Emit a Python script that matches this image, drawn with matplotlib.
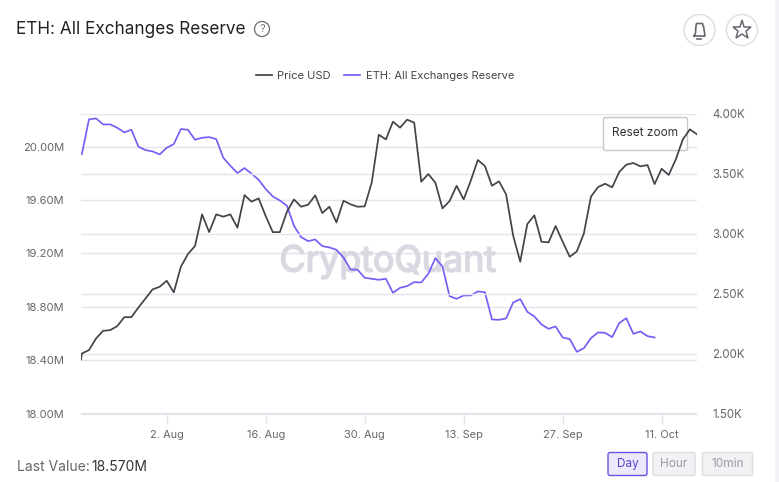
import matplotlib
matplotlib.use('Agg')
import matplotlib.pyplot as plt
import matplotlib.patheffects as pe
import pandas as pd
from matplotlib.patches import Circle, FancyBboxPatch

plt.rcParams['font.family'] = ['Inter', 'DejaVu Sans']

price = [1950, 2001, 2029, 2126, 2190, 2196, 2229, 2304, 2304, 2385, 2460, 2536, 2558, 2608, 2511, 2725,
         2831, 2898, 3162, 3014, 3162, 3143, 3162, 3051, 3323, 3268, 3296, 3148, 3014, 3014, 3184,
         3287, 3226, 3243, 3321, 3173, 3226, 3095, 3276, 3246, 3226, 3229, 3429, 3827, 3788, 3936,
         3886, 3953, 3928, 3435, 3499, 3426, 3212, 3273, 3401, 3287, 3443, 3616, 3566, 3401, 3438,
         3329, 2984, 2767, 3081, 3154, 2934, 2928, 3065, 2934, 2808, 2853, 3003, 3310, 3390, 3418,
         3388, 3516, 3577, 3591, 3563, 3574, 3415, 3543, 3491, 3621, 3788, 3872, 3830]

reserve = [19.945, 20.205, 20.2125, 20.1675, 20.1675, 20.1425, 20.1075, 20.1275, 20.00, 19.975,
           19.965, 19.9425, 19.9925, 20.02, 20.1325, 20.1275, 20.0525, 20.0675, 20.0725, 20.0575,
           19.9175, 19.8575, 19.8025, 19.84, 19.7975, 19.7525, 19.6825, 19.6275, 19.5975, 19.5575,
           19.4075, 19.3225, 19.2925, 19.305, 19.255, 19.245, 19.2275, 19.17, 19.08, 19.0775,
           19.0175, 19.01, 19.0025, 19.01, 18.905, 18.9425, 18.955, 18.985, 18.9825, 19.0475,
           19.165, 19.1025, 18.88, 18.86, 18.885, 18.885, 18.915, 18.91, 18.705, 18.7025,
           18.7125, 18.8325, 18.8575, 18.7625, 18.7275, 18.6675, 18.635, 18.6525, 18.57, 18.5575,
           18.4625, 18.49, 18.565, 18.6075, 18.605, 18.5725, 18.6775, 18.715, 18.5975, 18.615,
           18.58, 18.57]

left_ticks = [18.0, 18.4, 18.8, 19.2, 19.6, 20.0]
left_labels = ['18.00M', '18.40M', '18.80M', '19.20M', '19.60M', '20.00M']
right_ticks = [1500, 2000, 2500, 3000, 3500, 4000]
right_labels = ['1.50K', '2.00K', '2.50K', '3.00K', '3.50K', '4.00K']
date_ticks = ['2021-08-02', '2021-08-16', '2021-08-30', '2021-09-13', '2021-09-27', '2021-10-11']
date_labels = ['2. Aug', '16. Aug', '30. Aug', '13. Sep', '27. Sep', '11. Oct']

W, H = 779, 482
GRID = '#e4e4ec'
BLACK = '#434348'
PURPLE = '#7b5cf5'
TEXT = '#666666'

days = pd.date_range('2021-07-21', periods=len(price) - 1)
price_days = [days[0] - pd.Timedelta(hours=3)] + list(days)
reserve_days = days[:len(reserve)]

fig = plt.figure(figsize=(W / 100, H / 100), dpi=100, facecolor='#f4f4f8')

# white card and pixel-space layer for everything outside the plot
bg = fig.add_axes([0, 0, 1, 1], zorder=0)
bg.set_xlim(0, W)
bg.set_ylim(H, 0)
bg.axis('off')
bg.add_patch(FancyBboxPatch((-20, -20), 796, 540, boxstyle='round,pad=0,rounding_size=10',
                            fc='white', ec='#ececf2', lw=0.8))

x0, x1, y0, y1 = 81, 697, 114, 413.5
ax = fig.add_axes([x0 / W, 1 - y1 / H, (x1 - x0) / W, (y1 - y0) / H], zorder=1)
ax.patch.set_alpha(0)
ax2 = ax.twinx()

xmin = days[0] - pd.Timedelta(hours=3)
ax.set_xlim(xmin, days[-1])
ax.set_ylim(18.0, 18.0 + (y1 - y0) / 53.35 * 0.4)
ax2.set_ylim(1500, 4000)

ax.plot(reserve_days, reserve, color=PURPLE, lw=1.25, zorder=4, label='ETH: All Exchanges Reserve')
ax2.plot(price_days, price, color=BLACK, lw=1.25, zorder=4, label='Price USD')

ax.grid(axis='y', color=GRID, lw=1)
ax2.grid(axis='y', color=GRID, lw=1)
ax.set_axisbelow(True)
ax2.set_axisbelow(True)

ax.set_yticks(left_ticks, left_labels)
ax2.set_yticks(right_ticks, right_labels)
ax.set_xticks(pd.to_datetime(date_ticks), date_labels)
ax.tick_params(axis='y', length=0, pad=12, labelsize=8.1, labelcolor=TEXT)
ax2.tick_params(axis='y', length=0, pad=11, labelsize=8.3, labelcolor=TEXT)
ax.tick_params(axis='x', length=7, width=1, color=GRID, pad=5, labelsize=7.9, labelcolor=TEXT)
for a in (ax, ax2):
    for s in a.spines.values():
        s.set_visible(False)
ax.spines['bottom'].set_visible(True)
ax.spines['bottom'].set_color(GRID)

# watermark and reset button sit over the grid, under the price line
ax.text(388, 262, 'CryptoQuant', transform=bg.transData, ha='center', va='center',
        fontsize=25.8, color='#d9d9e1', zorder=2,
        path_effects=[pe.withStroke(linewidth=1.2, foreground='#d9d9e1')])
ax.add_patch(FancyBboxPatch((603.5, 117.5), 84, 33, boxstyle='round,pad=0,rounding_size=2',
                            transform=bg.transData, fc='white', ec='#c8c8c8', lw=1, zorder=3))
ax.text(645.5, 133, 'Reset zoom', transform=bg.transData, ha='center', va='center',
        fontsize=8.5, color='#333333', zorder=3)

h1, l1 = ax2.get_legend_handles_labels()
h2, l2 = ax.get_legend_handles_labels()
fig.legend(h1 + h2, l1 + l2, ncol=2, frameon=False, loc='center', bbox_to_anchor=(385 / W, 1 - 76 / H),
           fontsize=8, labelcolor='#444444', handlelength=1.45, handletextpad=0.5, columnspacing=1.2)

# header
top = fig.add_axes([0, 0, 1, 1], zorder=3)
top.set_xlim(0, W)
top.set_ylim(H, 0)
top.axis('off')
top.patch.set_alpha(0)
top.text(16, 29.5, 'ETH: All Exchanges Reserve', fontsize=12.35, color='#222222', va='center')
top.add_patch(Circle((262, 29), 7.5, fc='none', ec='#77777f', lw=1))
top.text(262, 29, '?', fontsize=8, color='#77777f', ha='center', va='center')
for cx in (699.5, 742):
    top.add_patch(Circle((cx, 30), 15.5, fc='white', ec='#dcdce2', lw=1))
top.plot([694, 695.5, 696, 696.5, 702.5, 703, 703.5, 705, 694],
         [36, 33, 26, 23.5, 23.5, 26, 26, 36, 36], color='#66666e', lw=1.2)
top.plot([697.5, 701.5], [38.5, 38.5], color='#66666e', lw=1.2)
top.plot([742], [30], marker='*', ms=14, mfc='none', mec='#66666e', mew=1.1)

# footer
top.text(17, 467, 'Last Value: ', fontsize=10, color=TEXT, va='center')
top.text(91, 467, '18.570M', fontsize=10, color='#333333', va='center')
buttons = [(608, 39, 'Day', '#ece8fd', '#6a4fe0', '#5a45c8'),
           (653, 42, 'Hour', '#f2f2f5', '#dcdce2', '#9a9aa2'),
           (702.5, 50, '10min', '#f2f2f5', '#dcdce2', '#9a9aa2')]
for bx, bw, name, fc, ec, tc in buttons:
    top.add_patch(FancyBboxPatch((bx, 452.5), bw, 23, boxstyle='round,pad=0,rounding_size=2',
                                 fc=fc, ec=ec, lw=1))
    top.text(bx + bw / 2, 464, name, fontsize=8.5, color=tc, ha='center', va='center')

fig.savefig('out.png', dpi=100, facecolor=fig.get_facecolor())
